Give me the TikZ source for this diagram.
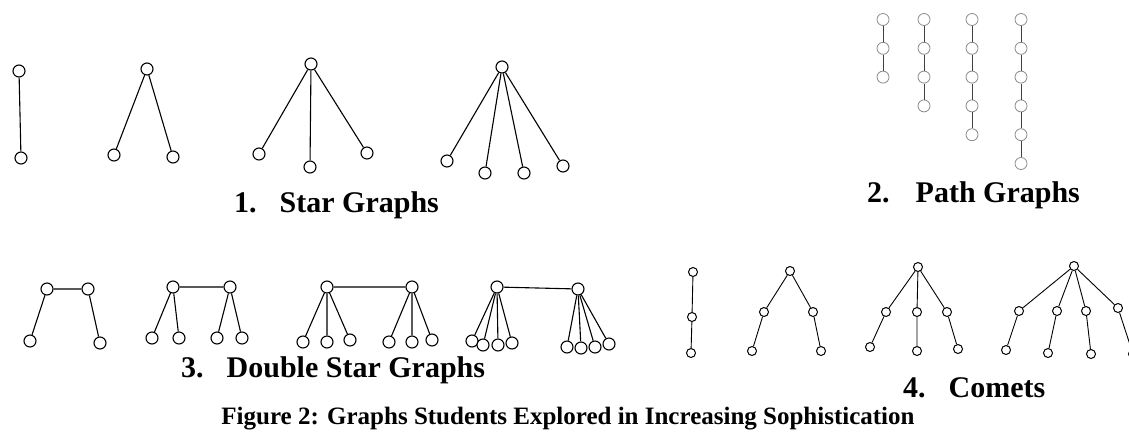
\documentclass[tikz,border=0pt]{standalone}
\usepackage{fontspec}
\setmainfont{Liberation Serif}
\begin{document}
\begin{tikzpicture}[x=1pt,y=-1pt,
  sv/.style={circle,draw=black,line width=1.1pt,minimum size=12pt,inner sep=0pt,fill=white},
  pv/.style={circle,draw=black!45,line width=0.8pt,minimum size=12pt,inner sep=0pt,fill=white},
  cv/.style={circle,draw=black,line width=1pt,minimum size=9pt,inner sep=0pt,fill=white},
  se/.style={draw=black,line width=1.1pt},
  pe/.style={draw=black!75,line width=1pt},
  ce/.style={draw=black,line width=0.9pt},
  lab/.style={anchor=base west,inner sep=0pt,font=\fontsize{30}{36}\selectfont\bfseries},
  figcap/.style={anchor=base,inner sep=0pt,font=\fontsize{25}{30}\selectfont\bfseries}]
\useasboundingbox (0,0) rectangle (1129,432);
\clip (0,0) rectangle (1129,432);
% ---------- 1. Star graphs ----------
\node[sv] (s1a) at (19,71) {};
\node[sv] (s1b) at (21,158) {};
\draw[se] (s1a) -- (s1b);
\node[sv] (s2a) at (147,69) {};
\node[sv] (s2b) at (114,155) {};
\node[sv] (s2c) at (173,157) {};
\draw[se] (s2a) -- (s2b) (s2a) -- (s2c);
\node[sv] (s3a) at (311,64) {};
\node[sv] (s3b) at (259,154) {};
\node[sv] (s3c) at (310,167) {};
\node[sv] (s3d) at (367,153) {};
\draw[se] (s3a) -- (s3b) (s3a) -- (s3c) (s3a) -- (s3d);
\node[sv] (s4a) at (502,67) {};
\node[sv] (s4b) at (447,161) {};
\node[sv] (s4c) at (485,173) {};
\node[sv] (s4d) at (524,173) {};
\node[sv] (s4e) at (563,166) {};
\draw[se] (s4a) -- (s4b) (s4a) -- (s4c) (s4a) -- (s4d) (s4a) -- (s4e);
\node[lab] (l1) at (234,212) {1.\hspace{23pt}Star Graphs};
% ---------- 2. Path graphs ----------
\foreach \c/\x/\n in {1/883/3,2/924/4,3/972/5,4/1021/6}{
  \foreach \k in {1,...,\n}{
    \node[pv] (p\c-\k) at (\x,{19.5+28.8*(\k-1)}) {};
  }
  \foreach \k in {2,...,\n}{
    \pgfmathtruncatemacro{\pr}{\k-1}
    \draw[pe] (p\c-\pr) -- (p\c-\k);
  }
}
\node[lab] (l2) at (867,202) {2.\hspace{26pt}Path Graphs};
% ---------- 3. Double star graphs ----------
\node[sv] (d1a) at (47,289) {};
\node[sv] (d1b) at (88,289) {};
\node[sv] (d1c) at (30,341) {};
\node[sv] (d1d) at (100,343) {};
\draw[se] (d1a) -- (d1b) (d1a) -- (d1c) (d1b) -- (d1d);
\node[sv] (d2a) at (173,287) {};
\node[sv] (d2b) at (230,287) {};
\node[sv] (d2c) at (152,338) {};
\node[sv] (d2d) at (179,338) {};
\node[sv] (d2e) at (217,338) {};
\node[sv] (d2f) at (242,338) {};
\draw[se] (d2a) -- (d2b) (d2a) -- (d2c) (d2a) -- (d2d) (d2b) -- (d2e) (d2b) -- (d2f);
\node[sv] (d3a) at (327,287) {};
\node[sv] (d3b) at (412,287) {};
\node[sv] (d3c) at (303,342) {};
\node[sv] (d3d) at (327,342) {};
\node[sv] (d3e) at (350,340) {};
\node[sv] (d3f) at (389,342) {};
\node[sv] (d3g) at (412,342) {};
\node[sv] (d3h) at (432,340) {};
\draw[se] (d3a) -- (d3b) (d3a) -- (d3c) (d3a) -- (d3d) (d3a) -- (d3e)
  (d3b) -- (d3f) (d3b) -- (d3g) (d3b) -- (d3h);
\node[sv] (d4a) at (497,287) {};
\node[sv] (d4b) at (578,289) {};
\foreach \n/\x/\y in {c/472/341,d/483/345,e/498/345,f/512/343,g/567/347,h/581/348,i/595/347,j/609/344}{
  \node[sv] (d4\n) at (\x,\y) {};
}
\draw[se] (d4a) -- (d4b);
\foreach \n in {c,d,e,f}{ \draw[se] (d4a) -- (d4\n); }
\foreach \n in {g,h,i,j}{ \draw[se] (d4b) -- (d4\n); }
\node[lab] (l3) at (181,377) {3.\hspace{23pt}Double Star Graphs};
% ---------- 4. Comets ----------
\node[cv] (c1a) at (693,272) {};
\node[cv] (c1b) at (692,317) {};
\node[cv] (c1c) at (691,353) {};
\draw[ce] (c1a) -- (c1b) -- (c1c);
\node[cv] (c2a) at (790,271) {};
\node[cv] (c2b) at (764,312) {};
\node[cv] (c2c) at (813,312) {};
\node[cv] (c2d) at (752,351) {};
\node[cv] (c2e) at (821,351) {};
\draw[ce] (c2a) -- (c2b) -- (c2d) (c2a) -- (c2c) -- (c2e);
\node[cv] (c3a) at (918,267) {};
\node[cv] (c3b) at (886,312) {};
\node[cv] (c3c) at (917,312) {};
\node[cv] (c3d) at (947,312) {};
\node[cv] (c3e) at (870,347) {};
\node[cv] (c3f) at (917,351) {};
\node[cv] (c3g) at (958,349) {};
\draw[ce] (c3a) -- (c3b) -- (c3e) (c3a) -- (c3c) -- (c3f) (c3a) -- (c3d) -- (c3g);
\node[cv] (c4a) at (1074,266) {};
\node[cv] (c4b) at (1019,311) {};
\node[cv] (c4c) at (1057,311) {};
\node[cv] (c4d) at (1086,311) {};
\node[cv] (c4e) at (1118,308) {};
\node[cv] (c4f) at (1006,350) {};
\node[cv] (c4g) at (1048,353) {};
\node[cv] (c4h) at (1091,354) {};
\node[cv] (c4i) at (1133,354) {};
\draw[ce] (c4a) -- (c4b) -- (c4f) (c4a) -- (c4c) -- (c4g) (c4a) -- (c4d) -- (c4h) (c4a) -- (c4e) -- (c4i);
\node[lab] (l4) at (903,397) {4.\hspace{23pt}Comets};
% ---------- caption ----------
\node[figcap] (fc) at (568,424) {Figure 2: Graphs Students Explored in Increasing Sophistication};
\end{tikzpicture}
\end{document}
